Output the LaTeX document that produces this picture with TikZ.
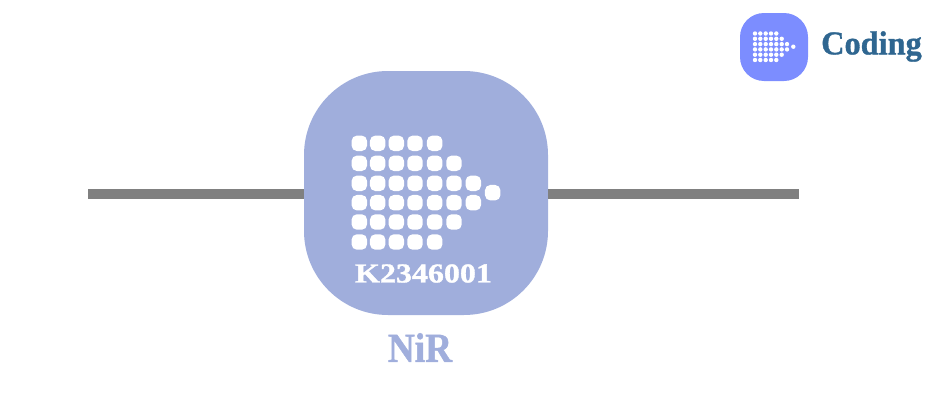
\documentclass[tikz,border=0pt]{standalone}
\usepackage{fontspec}
\setmainfont{Liberation Serif}
\newfontfamily\chipfont[FakeStretch=1.17,FakeBold=1.2]{Liberation Serif Bold}
\newfontfamily\namefont[FakeStretch=0.9,FakeBold=1.2]{Liberation Serif Bold}
\newfontfamily\brandfont[FakeStretch=0.97,FakeBold=1]{Liberation Serif Bold}
\definecolor{bigblue}{HTML}{A0AEDC}
\definecolor{smallblue}{HTML}{7C8DFF}
\definecolor{codeblue}{HTML}{2F6690}
\definecolor{wire}{HTML}{808080}
\tikzset{
  wireline/.style={draw=wire,line width=7.5pt},
  bigbox/.style={rectangle,fill=bigblue,minimum width=183pt,minimum height=183pt,rounded corners=63pt,inner sep=0pt},
  smallbox/.style={rectangle,fill=smallblue,minimum width=51pt,minimum height=51pt,rounded corners=18pt,inner sep=0pt},
  bigdot/.style={rectangle,fill=white,minimum width=11.6pt,minimum height=11.6pt,rounded corners=4pt,inner sep=0pt},
  smalldot/.style={circle,fill=white,minimum size=3.3pt,inner sep=0pt},
  lbl/.style={inner sep=0pt}
}
\begin{document}
\begin{tikzpicture}[x=0.75pt,y=-0.75pt]
\useasboundingbox (0,0) rectangle (945,407);
\node[bigbox] (chip) at (426,193) {};
\coordinate (wl) at (88,194);
\coordinate (wr) at (799,194);
\draw[wireline] (wl) -- (chip.west |- wl);
\draw[wireline] (chip.east |- wr) -- (wr);
% big pixel arrow
\foreach \r/\y/\n in {1/143.3/5,2/163.3/6,3/183.3/7,4/202.7/7,5/222/6,6/242/5}{
  \foreach \c/\x in {1/359.3,2/377.7,3/396.3,4/415,5/434.7,6/454,7/473.3}{
    \ifnum\c>\n\else
      \node[bigdot] (b\r\c) at (\x,\y) {};
    \fi
  }
}
\node[bigdot] (btip) at (492.7,192.7) {};
\node[lbl,text=white,font=\chipfont\fontsize{20.5pt}{22pt}\selectfont] (code) at (423.5,273.5) {K2346001};
\node[lbl,text=bigblue,font=\namefont\fontsize{31pt}{34pt}\selectfont] (name) at (420,347.5) {NiR};
% logo
\node[smallbox] (logo) at (774,47) {};
\foreach \r/\y/\n in {1/33.5/5,2/38.8/6,3/44.1/7,4/49.4/7,5/54.7/6,6/60/5}{
  \foreach \c/\x in {1/755,2/760.3,3/765.7,4/771,5/776.3,6/781.7,7/787}{
    \ifnum\c>\n\else
      \node[smalldot] (s\r\c) at (\x,\y) {};
    \fi
  }
}
\node[smalldot] (stip) at (793.3,46.7) {};
\node[lbl,text=codeblue,font=\brandfont\fontsize{25pt}{27pt}\selectfont] (coding) at (871.5,46.5) {Coding};
\end{tikzpicture}
\end{document}
